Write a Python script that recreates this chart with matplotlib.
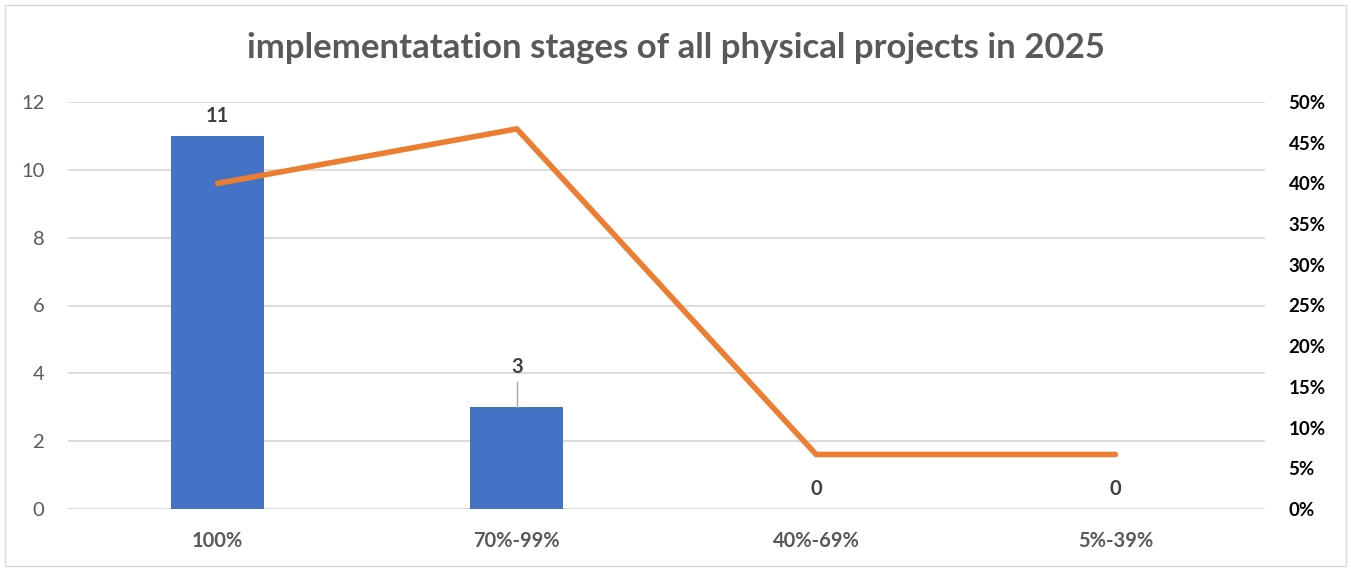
import matplotlib.pyplot as plt
import numpy as np
from matplotlib.patches import Rectangle

plt.rcParams['font.family'] = ['Lato', 'DejaVu Sans']

stages = ["100%", "70%-99%", "40%-69%", "5%-39%"]
projectCounts = [11, 3, 0, 0]
sharePercent = [40.0, 46.7, 6.7, 6.7]

fig = plt.figure(figsize=(13.51, 5.71), dpi=100)
fig.patches.append(Rectangle((0.004, 0.008), 0.992, 0.984, transform=fig.transFigure,
                             fill=False, edgecolor='#d9d9d9', linewidth=1))

ax = fig.add_axes([68 / 1351, 1 - 509 / 571, (1265 - 68) / 1351, (509 - 102) / 571])
ax2 = ax.twinx()

x = np.arange(len(stages))
ax.bar(x, projectCounts, width=0.31, color='#4472c4', zorder=2)
ax.set_xlim(-0.5, len(stages) - 0.5)
ax.set_ylim(0, 12)
ax.set_yticks(range(0, 13, 2))
ax.grid(axis='y', color='#d9d9d9', linewidth=1.3, zorder=0)
ax.set_axisbelow(True)
for s in ax.spines.values():
    s.set_visible(False)
for s in ax2.spines.values():
    s.set_visible(False)
ax.tick_params(axis='both', length=0)
ax.tick_params(axis='y', labelsize=14.5, labelcolor='#595959', pad=17)
ax.set_xticks(x)
ax.set_xticklabels(stages, fontsize=14.5, fontweight='bold', color='#595959')
ax.tick_params(axis='x', pad=16)

# data labels
for i, v in enumerate(projectCounts):
    if v == 3:
        ax.plot([i, i], [v, v + 0.75], color='#a6a6a6', linewidth=1, zorder=3)
        ax.text(i, v + 0.9, str(v), ha='center', va='bottom', fontsize=14.5,
                fontweight='bold', color='#404040')
    else:
        ax.text(i, v + 0.3, str(v), ha='center', va='bottom', fontsize=14.5,
                fontweight='bold', color='#404040')

ax2.plot(x, sharePercent, color='#ed7d31', linewidth=4, solid_capstyle='round', zorder=4)
ax2.set_ylim(0, 50)
ax2.set_yticks(range(0, 51, 5))
ax2.set_yticklabels([f"{t}%" for t in range(0, 51, 5)], fontsize=13.5,
                    fontweight='bold', color='black')
ax2.tick_params(axis='y', length=0, pad=17)

fig.text(0.5, 1 - 48 / 571, "implementatation stages of all physical projects in 2025",
         ha='center', va='center', fontsize=25, fontweight='bold', color='#595959')

fig.savefig("out.png", dpi=100)
